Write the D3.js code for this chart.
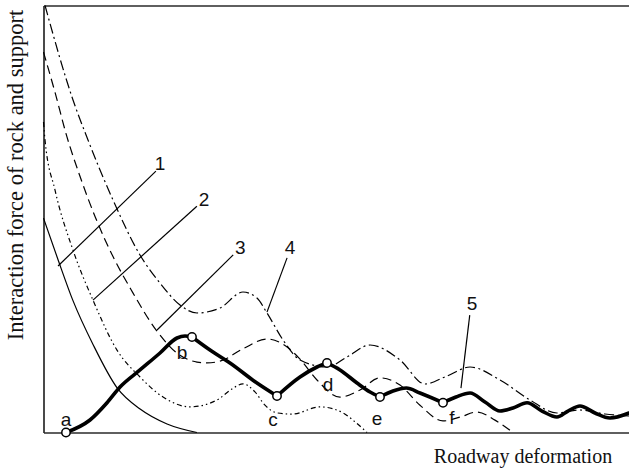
<!DOCTYPE html>
<html>
<head>
<meta charset="utf-8">
<script src="https://cdn.jsdelivr.net/npm/d3@7"></script>
<style>
  body { margin: 0; background: #fff; }
  svg { display: block; }
</style>
</head>
<body>
<svg id="chart" width="629" height="471"></svg>
<script>
// Support characteristic curves (deformation on x, force on y, both 0..100)
// Curve 1: thin solid
const c1X = [0, 2.5, 5.0, 8.5, 12.6, 16.5, 21.1, 26.2];
const c1Y = [50.2, 40.4, 31.0, 20.5, 10.4, 5.5, 2.0, 0];

// Curve 2: dash-dot-dot
const c2X = [0, 0.26, 1.96, 5.04, 8.45, 12.55, 16.48, 20.41, 25.02, 29.63, 32.19, 34.07, 36.12, 37.83, 39.88, 42.44, 47.22, 51.15, 53.2, 55.25];
const c2Y = [72.7, 68.5, 56.8, 42.7, 31.0, 19.3, 13.0, 8.3, 6.0, 7.6, 10.2, 11.4, 9.5, 6.4, 4.6, 4.3, 6.0, 4.6, 2.5, 0];

// Curve 3: dashed
const c3X = [0, 1.96, 3.97, 6.23, 8.80, 11.87, 14.94, 19.39, 22.80, 26.22, 27.92, 30.15, 34.07, 38.17, 40.91, 43.81, 46.71, 50.64, 54.06, 57.47, 60.89, 64.30, 68.23, 71.14, 74.04, 77.11, 80.19];
const c3Y = [89.1, 79.7, 69.4, 60.0, 50.6, 41.2, 33.5, 23.7, 18.6, 16.5, 16.3, 16.7, 19.6, 21.9, 20.7, 17.2, 12.3, 8.3, 9.95, 12.8, 11.1, 6.4, 2.7, 3.6, 4.8, 2.9, 0];

// Curve 4: dash-dot
const c4X = [0.26, 5.04, 7.60, 11.87, 16.48, 19.90, 23.31, 26.22, 30.15, 34.07, 36.46, 38.17, 40.91, 43.81, 48.42, 51.84, 55.77, 60.89, 65.16, 68.92, 72.85, 77.97, 83.09, 87.70, 91.63, 95.90, 100];
const c4Y = [100, 77.87, 68.5, 54.45, 41.57, 35.0, 29.86, 27.99, 29.16, 32.9, 31.5, 28.0, 21.66, 16.98, 15.34, 17.68, 20.49, 16.98, 11.36, 13.23, 15.34, 12.3, 7.61, 4.57, 5.27, 4.33, 3.86];

// Curve 5: thick interaction path through points a..f
const c5X = [3.84, 7.94, 10.85, 13.07, 16.48, 19.90, 22.80, 24.17, 25.36, 28.44, 31.85, 36.46, 39.88, 43.81, 46.71, 48.42, 50.64, 53.55, 55.77, 57.47, 59.69, 61.96, 64.30, 68.23, 70.45, 72.85, 75.40, 77.97, 80.19, 82.58, 85.14, 87.70, 89.58, 91.63, 94.19, 96.75, 100];
const c5Y = [0, 2.93, 6.97, 10.66, 14.64, 18.62, 22.13, 22.6, 22.37, 19.32, 16.28, 11.59, 8.55, 12.99, 15.34, 16.28, 14.64, 11.59, 9.48, 8.31, 9.72, 10.42, 9.25, 6.97, 8.31, 9.25, 7.14, 5.03, 5.74, 6.97, 5.03, 3.63, 5.03, 6.21, 4.57, 3.40, 4.57];
const pointNames = ['a', 'b', 'c', 'd', 'e', 'f'];
const pointIndex = [0, 8, 12, 15, 19, 23];

// Numbered callouts: leader start / end and label anchor (data units)
const calloutNames = ['1', '2', '3', '4', '5'];
const leaderX0 = [19.2, 26.2, 32.4, 41.6, 72.8];
const leaderY0 = [61.2, 53.0, 41.6, 40.9, 27.5];
const leaderX1 = [2.48, 8.45, 19.39, 38.17, 71.3];
const leaderY1 = [39.0, 31.0, 24.0, 28.2, 10.4];
const calloutLabelX = [19.9, 27.4, 33.6, 42.1, 73.2];
const calloutLabelY = [62.9, 54.6, 43.4, 43.4, 30.1];

const xTitle = 'Roadway deformation';
const yTitle = 'Interaction force of rock and support';

// ---- layout ----
const W = 629, H = 471;
const plot = { left: 43.5, right: 629, top: 5.5, bottom: 432.5 };
const letterOffset = [[0, -13], [-10, 16], [-4, 24], [1, 22], [-3, 21], [9, 15]];

const svg = d3.select('#chart');
const x = d3.scaleLinear().domain([0, 100]).range([plot.left, plot.right]);
const y = d3.scaleLinear().domain([0, 100]).range([plot.bottom, plot.top]);

const zip = (xs, ys) => xs.map((v, i) => [v, ys[i]]);
const line = d3.line().x(d => x(d[0])).y(d => y(d[1])).curve(d3.curveMonotoneX);

// frame: left, top and bottom edges only
const frameColor = '#2a2a2a';
function frameAxis(gen, tx, ty) {
  const g = svg.append('g').attr('transform', `translate(${tx},${ty})`)
    .call(gen.tickValues([]).tickSizeOuter(0));
  g.select('.domain').attr('stroke', frameColor).attr('stroke-width', 1.7);
}
frameAxis(d3.axisBottom(x), 0, plot.bottom);
frameAxis(d3.axisTop(x), 0, plot.top);
frameAxis(d3.axisLeft(y), plot.left, 0);

// support curves
const curves = [
  { pts: zip(c1X, c1Y), dash: null },
  { pts: zip(c2X, c2Y), dash: '5,3,1.5,3,1.5,3' },
  { pts: zip(c3X, c3Y), dash: '9,5' },
  { pts: zip(c4X, c4Y), dash: '10,3.5,2,3.5' }
];
svg.append('g').selectAll('path').data(curves).join('path')
  .attr('d', d => line(d.pts))
  .attr('fill', 'none')
  .attr('stroke', '#000')
  .attr('stroke-width', 1.2)
  .attr('stroke-dasharray', d => d.dash);

// thick path, drawn piecewise so the corners at a..f stay sharp
const c5 = zip(c5X, c5Y);
const cuts = pointIndex.concat([c5.length - 1]);
const pieces = d3.pairs(cuts).map(([i, j]) => c5.slice(i, j + 1));
svg.append('g').selectAll('path').data(pieces).join('path')
  .attr('d', line)
  .attr('fill', 'none')
  .attr('stroke', '#000')
  .attr('stroke-width', 3.6)
  .attr('stroke-linejoin', 'round')
  .attr('stroke-linecap', 'round');

// leader lines and numbers
const callouts = calloutNames.map((n, i) => ({
  n, x0: leaderX0[i], y0: leaderY0[i], x1: leaderX1[i], y1: leaderY1[i],
  lx: calloutLabelX[i], ly: calloutLabelY[i]
}));
svg.append('g').selectAll('line').data(callouts).join('line')
  .attr('x1', d => x(d.x0)).attr('y1', d => y(d.y0))
  .attr('x2', d => x(d.x1)).attr('y2', d => y(d.y1))
  .attr('stroke', '#000').attr('stroke-width', 1.2);
svg.append('g').selectAll('text').data(callouts).join('text')
  .attr('x', d => x(d.lx)).attr('y', d => y(d.ly))
  .attr('text-anchor', 'middle').attr('dominant-baseline', 'central')
  .attr('font-family', '"Liberation Sans", Arial, sans-serif')
  .attr('font-size', 19).attr('fill', '#111')
  .text(d => d.n);

// point markers and their letters
const pts = pointIndex.map((k, i) => ({ name: pointNames[i], p: c5[k], off: letterOffset[i] }));
svg.append('g').selectAll('text').data(pts).join('text')
  .attr('x', d => x(d.p[0]) + d.off[0]).attr('y', d => y(d.p[1]) + d.off[1])
  .attr('text-anchor', 'middle').attr('dominant-baseline', 'central')
  .attr('font-family', '"Liberation Sans", Arial, sans-serif')
  .attr('font-size', 19).attr('fill', '#111')
  .text(d => d.name);
svg.append('g').selectAll('circle').data(pts).join('circle')
  .attr('cx', d => x(d.p[0])).attr('cy', d => y(d.p[1]))
  .attr('r', 4.2)
  .attr('fill', '#fff').attr('stroke', '#000').attr('stroke-width', 1.5);

// axis titles
svg.append('text')
  .attr('x', 523).attr('y', 463)
  .attr('text-anchor', 'middle')
  .attr('font-family', '"Liberation Serif", "Times New Roman", serif')
  .attr('font-size', 20).attr('fill', '#111')
  .text(xTitle);
svg.append('text')
  .attr('transform', 'translate(23,175) rotate(-90)')
  .attr('text-anchor', 'middle')
  .attr('font-family', '"Liberation Serif", "Times New Roman", serif')
  .attr('font-size', 22.5).attr('fill', '#111')
  .text(yTitle);
</script>
</body>
</html>
